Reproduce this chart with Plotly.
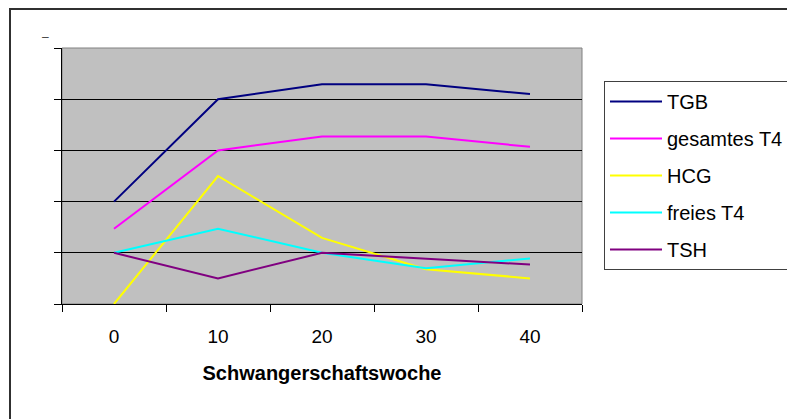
import plotly.graph_objects as go

weeks = ["0", "10", "20", "30", "40"]
series_names = ["TGB", "gesamtes T4", "HCG", "freies T4", "TSH"]
tgb = [2.0, 4.0, 4.29, 4.29, 4.1]
gesamt_t4 = [1.47, 3.0, 3.27, 3.27, 3.07]
hcg = [0.0, 2.5, 1.29, 0.68, 0.5]
freies_t4 = [1.0, 1.47, 1.0, 0.7, 0.89]
tsh = [1.0, 0.5, 1.0, 0.88, 0.77]
colors = ["#000080", "#FF00FF", "#FFFF00", "#00FFFF", "#800080"]
x_title = "Schwangerschaftswoche"

OFF = 8  # page body margin
W, H = 795 - OFF, 419 - OFF
L, R, T, B = 62, 582, 48, 304  # plot area in page pixels

fig = go.Figure()
for i, (name, vals) in enumerate(zip(series_names, [tgb, gesamt_t4, hcg, freies_t4, tsh])):
    fig.add_trace(go.Scatter(
        x=weeks, y=vals, mode="lines", name=name,
        line=dict(color=colors[i], width=2),
        legendgroup=f"g{i}",
    ))

font = "Liberation Sans, Arial, sans-serif"
pw, ph = R - L, B - T

def px(x):
    return (x - L) / pw

def py(y):
    return (B - y) / ph

fig.update_layout(
    width=W, height=H,
    margin=dict(l=L - OFF, r=W - (R - OFF), t=T - OFF, b=H - (B - OFF), pad=0,
                autoexpand=False),
    paper_bgcolor="white",
    plot_bgcolor="#C0C0C0",
    font=dict(family=font, size=19, color="black"),
    showlegend=True,
    legend=dict(
        x=px(604), y=py(81), xanchor="left", yanchor="top",
        bgcolor="white", bordercolor="#404040", borderwidth=1,
        font=dict(family=font, size=20, color="black"),
        tracegroupgap=8, itemwidth=52,
    ),
    xaxis=dict(
        type="category", range=[-0.5, 4.5], tickson="boundaries",
        ticks="outside", ticklen=7, automargin=False,
        tickcolor="black", showline=True, linecolor="black", linewidth=1,
        showgrid=False, zeroline=False, ticklabelstandoff=15,
        tickfont=dict(family=font, size=19, color="black"),
        title=dict(text=f"<b>{x_title}</b>", standoff=20,
                   font=dict(family=font, size=20, color="black")),
    ),
    yaxis=dict(
        range=[0, 5], tickvals=[0, 1, 2, 3, 4, 5], showticklabels=False,
        ticks="outside", ticklen=7, tickcolor="black", automargin=False,
        showline=True, linecolor="black", linewidth=1,
        showgrid=True, gridcolor="black", gridwidth=1, zeroline=False,
    ),
)

# plot-area border (grey) and outer chart frame
fig.add_shape(type="rect", xref="paper", yref="paper", x0=0, x1=1, y0=0, y1=1,
              line=dict(color="#808080", width=1), layer="below")
fig.add_shape(type="rect", xref="paper", yref="paper",
              x0=px(10), x1=px(830), y0=py(9), y1=py(460),
              line=dict(color="#303030", width=2))
fig.add_annotation(xref="paper", yref="paper", x=px(40), y=py(28), text="–",
                   showarrow=False, font=dict(family=font, size=12, color="#404040"))

fig.write_html("out.html")
